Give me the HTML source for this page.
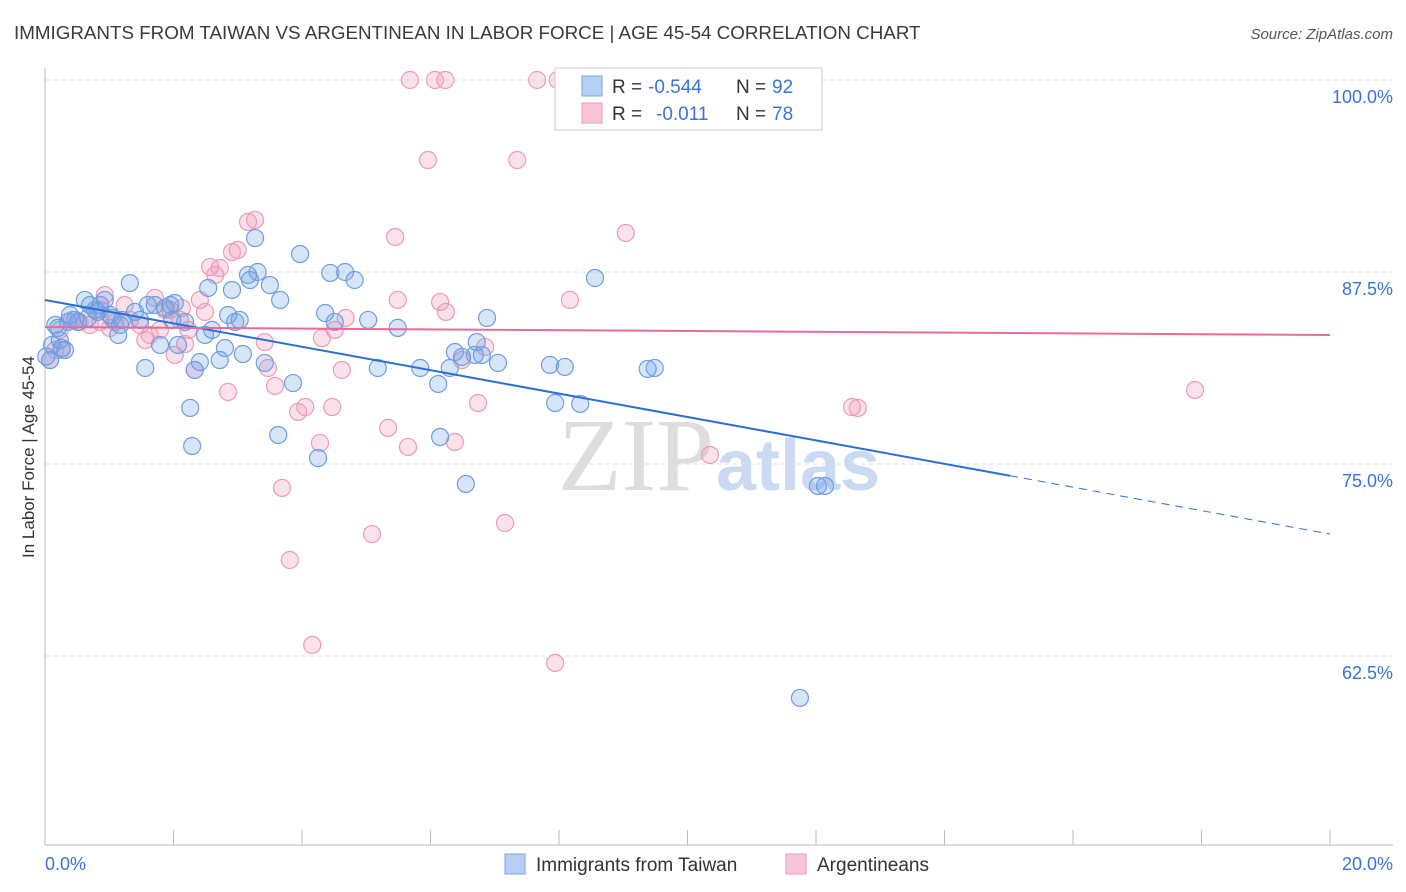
<!DOCTYPE html>
<html><head><meta charset="utf-8"><style>
body{margin:0;background:#fff;font-family:"Liberation Sans",sans-serif}
svg{display:block}
</style></head><body>
<svg id="chart" width="1406" height="892">
<text x="14" y="39" font-size="18.8" fill="#3a3a3a">IMMIGRANTS FROM TAIWAN VS ARGENTINEAN IN LABOR FORCE | AGE 45-54 CORRELATION CHART</text>
<text x="1393" y="39" font-size="15" fill="#555" font-style="italic" text-anchor="end">Source: ZipAtlas.com</text>
<text x="714" y="490" font-size="104" fill="#ddd" text-anchor="end" font-family="Liberation Serif">ZIP</text>
<text x="716" y="490" font-size="72" fill="#c9daf2" font-weight="bold">atlas</text>
<text transform="translate(34,457) rotate(-90)" font-size="17" fill="#333" text-anchor="middle">In Labor Force | Age 45-54</text>
<g id="grid"></g><g id="marks"></g>
<g>
<rect x="555" y="68" width="267" height="62" fill="#fff" stroke="#ccc"/>
<rect x="582" y="76" width="20" height="20" fill="#b5cff5" stroke="#7aa6e6"/>
<rect x="582" y="103" width="20" height="20" fill="#f8c5d5" stroke="#ec9ab7"/>
<text x="612" y="93" font-size="19" fill="#333">R =</text>
<text x="648" y="93" font-size="19" fill="#3b73d9">-0.544</text>
<text x="736" y="93" font-size="19" fill="#333">N =</text>
<text x="772" y="93" font-size="19" fill="#3b73d9">92</text>
<text x="612" y="120" font-size="19" fill="#333">R =</text>
<text x="656" y="120" font-size="19" fill="#3b73d9">-0.011</text>
<text x="736" y="120" font-size="19" fill="#333">N =</text>
<text x="772" y="120" font-size="19" fill="#3b73d9">78</text>
</g>
<g>
<rect x="505" y="854" width="20" height="20" fill="#b5cff5" stroke="#7aa6e6"/>
<text x="536" y="871" font-size="19" fill="#333">Immigrants from Taiwan</text>
<rect x="786" y="854" width="20" height="20" fill="#f8c5d5" stroke="#ec9ab7"/>
<text x="817" y="871" font-size="19" fill="#333">Argentineans</text>
</g>
</svg>
<script>
const yTicks=[100,87.5,75,62.5];
const yTickLabels=["100.0%","87.5%","75.0%","62.5%"];
const xLabels=["0.0%","20.0%"];
const blueX=[.16,.23,.31,.39,.47,.62,.70,.78,.86,.93,1.01,1.14,1.17,1.32,1.40,1.56,1.60,1.71,1.79,1.87,1.95,2.02,2.07,2.18,2.26,2.29,2.33,2.41,2.49,2.54,2.60,2.72,2.80,2.85,2.91,2.96,3.03,3.08,3.16,3.19,3.27,3.31,3.42,3.50,3.63,3.66,3.86,3.97,4.25,4.36,4.44,4.51,4.67,4.82,5.03,5.18,5.49,5.84,6.12,6.15,6.30,6.38,6.49,6.55,6.69,6.72,6.80,6.88,7.05,7.86,7.94,8.09,8.33,8.56,9.38,9.49,12.03,12.14,11.75,.08,.11,.20,.26,.36,.51,.67,.82,1.04,1.20,1.48,1.98,.02];
const blueY=[84.05,83.07,82.42,84.70,84.38,85.68,85.35,85.03,85.35,85.68,84.70,83.40,84.05,86.78,84.90,81.25,85.35,85.35,82.75,85.16,85.35,85.48,82.75,84.25,78.65,76.17,81.12,81.64,83.40,86.46,83.73,81.77,82.55,84.70,86.33,84.25,84.38,82.16,87.31,86.98,89.71,87.50,81.58,86.65,76.89,85.68,80.27,88.67,75.39,84.83,87.44,84.25,87.50,86.98,84.38,81.25,83.86,81.25,80.21,76.76,81.25,82.29,81.97,73.70,82.10,82.94,82.10,84.51,81.58,81.45,78.97,81.32,78.91,87.11,81.19,81.25,73.57,73.57,59.77,81.77,82.75,83.86,82.55,84.25,84.25,84.51,84.90,84.51,84.38,84.38,84.38,82.0];
const pinkX=[.08,.16,.23,.26,.42,.54,.70,.86,.93,1.01,1.24,1.32,1.48,1.56,1.71,1.87,1.95,2.02,2.13,2.18,2.33,2.41,2.49,2.57,2.65,2.72,2.85,2.91,3.00,3.16,3.27,3.42,3.47,3.58,3.69,3.81,3.94,4.05,4.16,4.28,4.31,4.47,4.51,4.62,4.68,5.09,5.34,5.45,5.49,5.65,5.68,5.96,6.07,6.23,6.15,6.24,6.38,6.49,6.74,6.85,7.16,7.35,7.66,7.94,7.98,8.17,9.04,9.23,10.35,12.56,12.65,17.90,.86,1.09,1.63,1.79,2.10,2.23];
const pinkY=[81.77,82.42,83.73,82.42,84.38,84.25,84.05,84.25,86.00,83.86,85.35,84.38,84.05,83.07,85.81,85.03,85.03,82.10,85.16,82.81,81.12,85.68,84.90,87.83,87.31,87.76,79.69,88.80,88.93,90.76,90.89,82.94,81.25,80.08,73.44,68.75,78.39,78.71,63.22,76.37,83.20,78.71,83.73,81.12,84.51,70.44,77.35,89.78,85.68,76.11,100,94.79,100,100,85.55,84.90,76.43,81.77,78.97,82.62,71.16,94.79,100,62.05,100,85.68,90.04,100,75.59,78.71,78.65,79.82,85.03,84.25,83.40,83.73,84.38,83.73];
const blueTrend=[85.68,70.44], blueSolidEnd=15.02;
const pinkTrend=[83.92,83.40];
const X=v=>45+v/20*1285, Y=v=>80+(100-v)*15.36;
const NS="http://www.w3.org/2000/svg";
function mk(tag,attrs,parent){const e=document.createElementNS(NS,tag);for(const k in attrs)e.setAttribute(k,attrs[k]);parent.appendChild(e);return e;}
const grid=document.getElementById('grid'), marks=document.getElementById('marks');
yTicks.forEach((t,i)=>{
 const l=mk('line',{x1:45,x2:1393,y1:Y(t),y2:Y(t),stroke:'#ddd','stroke-dasharray':'4,4'},grid);
 
 
 const tx=mk('text',{x:1393,y:Y(t)+23,'font-size':18,fill:'#3b73d9','text-anchor':'end'},grid);
 tx.textContent=yTickLabels[i];
 
 
});
mk('line',{x1:45,x2:45,y1:68,y2:845,stroke:'#bbb'},grid);
mk('line',{x1:45,x2:1393,y1:845,y2:845,stroke:'#bbb'},grid);
for(let i=1;i<=10;i++){const t=mk('line',{x1:X(i*2),x2:X(i*2),y1:830,y2:845,stroke:'#bbb'},grid);
 
 }
[[0,'start',45],[1,'end',1393]].forEach(([i,a,x])=>{const t=mk('text',{x:x,y:870,'font-size':18,fill:'#3b73d9','text-anchor':a},grid);t.textContent=xLabels[i];
 
 });
function dots(xs,ys,fill,stroke,name){xs.forEach((x,i)=>{const c=mk('circle',{cx:X(x),cy:Y(ys[i]),r:8.5,fill:fill,stroke:stroke,'stroke-width':1.2},marks);
 
 });}
dots(pinkX,pinkY,'rgba(240,150,180,0.28)','#ec9ab7','argentinean-point');
dots(blueX,blueY,'rgba(110,160,230,0.28)','#6e9de2','taiwan-point');
const by=x=>blueTrend[0]+(blueTrend[1]-blueTrend[0])*x/20;
let l1=mk('line',{x1:X(0),y1:Y(blueTrend[0]),x2:X(blueSolidEnd),y2:Y(by(blueSolidEnd)),stroke:'#2b6fd6','stroke-width':2},marks);


let l2=mk('line',{x1:X(blueSolidEnd),y1:Y(by(blueSolidEnd)),x2:X(20),y2:Y(blueTrend[1]),stroke:'#2b6fd6','stroke-width':1,'stroke-dasharray':'8,6'},marks);


let l3=mk('line',{x1:X(0),y1:Y(pinkTrend[0]),x2:X(20),y2:Y(pinkTrend[1]),stroke:'#e8699a','stroke-width':2},marks);


</script>
</body></html>
